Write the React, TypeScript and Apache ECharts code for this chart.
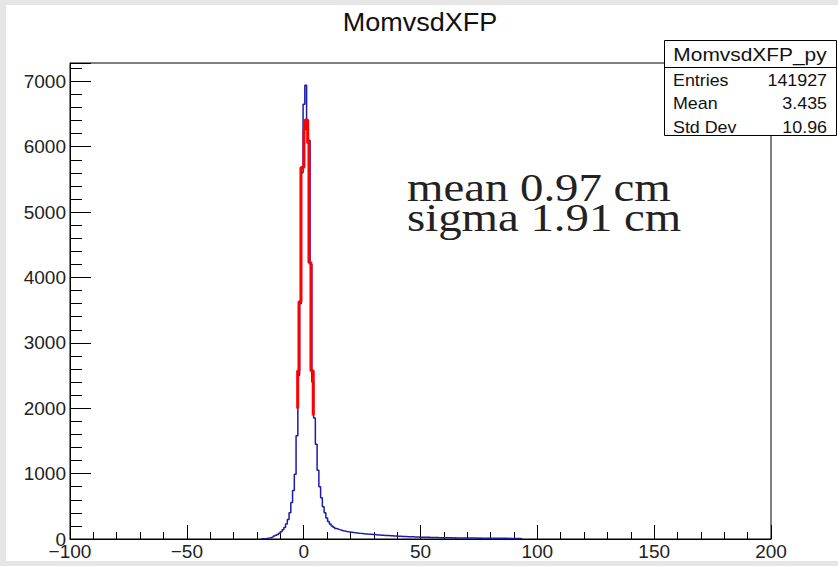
import React, { useEffect, useRef } from "react";
import * as echarts from "echarts";

// Histogram of MomvsdXFP_py: bins of width 0.75 starting at -18.25
const binStart = -18.25;
const binWidth = 0.75;
const counts = [
  2, 4, 7, 11, 17, 24, 33, 44, 56, 70,
  88, 110, 140, 175, 230, 300, 400, 560, 740, 990,
  1580, 2500, 3600, 5600, 6650, 6940, 6300, 6100, 4200, 2400,
  1850, 1450, 1050, 800, 630, 495, 400, 322, 266, 228,
  198, 178, 162, 152, 143, 135, 127, 121, 115, 110,
  106, 102, 98, 95, 92, 88, 86, 83, 80, 78,
  75, 73, 71, 69, 67, 65, 63, 61, 59, 57,
  55, 53, 52, 50, 48, 46, 45, 43, 42, 41,
  40, 38, 37, 36, 35, 34, 33, 32, 30, 29,
  28, 27, 27, 26, 25, 25, 24, 23, 24, 22,
  22, 21, 21, 20, 20, 19, 19, 18, 18, 17,
  18, 17, 16, 16, 16, 15, 15, 16, 15, 14,
  15, 14, 14, 13, 14, 13, 13, 12, 13, 12,
  12, 11, 12, 11, 11, 11, 10, 10, 11, 10,
  9, 10, 9, 9, 8, 8, 7, 6, 4,
];

// Gaussian fit drawn as a red step curve
const fitEdges = [-2.57, -2.0, -1.16, 0.13, 0.56, 1.71, 2.27, 3.12, 4.1];
const fitLevels = [1994, 2572, 3630, 5680, 6260, 6410, 6060, 4230, 2572, 1890];

// Axes
const xMin = -100;
const xMax = 200;
const xMajor = 50;
const yMin = 0;
const yMax = 7280;
const yMajor = 1000;
const yMinor = 200;

const titleText = "MomvsdXFP";
const statsTitle = "MomvsdXFP_py";
const statsNames = ["Entries", "Mean", "Std Dev"];
const statsValues = ["141927", "3.435", "10.96"];
const fitLines = ["mean 0.97 cm", "sigma 1.91 cm"];

const SANS = '"Liberation Sans", Arial, Helvetica, sans-serif';
const SERIF = '"Liberation Serif", "Times New Roman", serif';

function histPoints(): number[][] {
  const pts: number[][] = [[binStart, 0]];
  counts.forEach((c, i) => {
    const l = binStart + i * binWidth;
    pts.push([l, c]);
    pts.push([l + binWidth, c]);
  });
  pts.push([binStart + counts.length * binWidth, 0]);
  return pts;
}

function fitPoints(): number[][] {
  const pts: number[][] = [[fitEdges[0], fitLevels[0]]];
  fitEdges.forEach((e, i) => {
    if (i > 0) pts.push([e, fitLevels[i]]);
    pts.push([e, fitLevels[i + 1]]);
  });
  return pts;
}

export default function App() {
  const ref = useRef<HTMLDivElement>(null);
  useEffect(() => {
    if (!ref.current) return;
    const chart = echarts.init(ref.current, null, { renderer: "svg" });
    const statsRows = statsNames.map((n, i) => [n, statsValues[i]]);
    const option: any = {
      animation: false,
      backgroundColor: "#ffffff",
      grid: {
        left: 64,
        top: 58,
        width: 701,
        height: 478,
        show: true,
        borderColor: "#000",
        borderWidth: 1,
        backgroundColor: "transparent",
      },
      xAxis: {
        type: "value",
        min: xMin,
        max: xMax,
        interval: xMajor,
        axisLine: { show: true, onZero: false, lineStyle: { color: "#000", width: 1 } },
        axisTick: { show: true, inside: true, length: 14, lineStyle: { color: "#000" } },
        minorTick: { show: true, splitNumber: 5, length: 7, lineStyle: { color: "#000" } },
        splitLine: { show: false },
        axisLabel: {
          color: "#222",
          fontFamily: SANS,
          fontSize: 19,
          margin: 3,
          formatter: (v: number) => (v < 0 ? "\u2212" + Math.abs(v) : String(v)),
        },
      },
      yAxis: [
        {
          type: "value",
          min: yMin,
          max: yMax,
          interval: yMajor,
          axisLine: { show: true, onZero: false, lineStyle: { color: "#000", width: 1 } },
          axisTick: { show: true, inside: true, length: 21, lineStyle: { color: "#000" } },
          splitLine: { show: false },
          axisLabel: {
            color: "#222",
            fontFamily: SANS,
            fontSize: 19,
            margin: 4,
            formatter: (v: number) => (v % yMajor === 0 ? String(v) : ""),
          },
        },
        {
          type: "value",
          min: yMin,
          max: yMax,
          interval: yMinor,
          position: "left",
          axisLine: { show: false, onZero: false },
          axisTick: { show: true, inside: true, length: 12, lineStyle: { color: "#000" } },
          splitLine: { show: false },
          axisLabel: { show: false },
        },
      ],
      series: [
        {
          type: "line",
          data: histPoints(),
          symbol: "none",
          lineStyle: { color: "#1c1ca6", width: 1.5 },
          z: 2,
        },
        {
          type: "line",
          data: fitPoints(),
          symbol: "none",
          lineStyle: { color: "#ff0000", width: 3 },
          z: 3,
        },
      ],
      graphic: [
        {
          type: "text",
          x: 414,
          y: 17,
          scaleX: 1.08,
          style: {
            text: titleText,
            font: `25px ${SANS}`,
            fill: "#111",
            textAlign: "center",
            textVerticalAlign: "middle",
          },
        },
        {
          type: "rect",
          z: 100,
          shape: { x: 658.5, y: 35.5, width: 172, height: 95 },
          style: { fill: "#fff", stroke: "#000", lineWidth: 1 },
        },
        {
          type: "line",
          z: 101,
          shape: { x1: 658.5, y1: 62.5, x2: 830.5, y2: 62.5 },
          style: { stroke: "#000", lineWidth: 1 },
        },
        {
          type: "text",
          z: 102,
          x: 744,
          y: 49,
          scaleX: 1.1,
          style: {
            text: statsTitle,
            font: `19px ${SANS}`,
            fill: "#111",
            textAlign: "center",
            textVerticalAlign: "middle",
          },
        },
        ...statsRows.flatMap((r, i) => [
          {
            type: "text",
            z: 102,
            x: 667,
            y: 75 + i * 23.5,
            scaleX: 1.05,
            style: { text: r[0], font: `17px ${SANS}`, fill: "#111", textAlign: "left", textVerticalAlign: "middle" },
          },
          {
            type: "text",
            z: 102,
            x: 821,
            y: 75 + i * 23.5,
            scaleX: 1.05,
            style: { text: r[1], font: `17px ${SANS}`, fill: "#111", textAlign: "right", textVerticalAlign: "middle" },
          },
        ]),
        ...fitLines.map((t, i) => ({
          type: "text",
          z: 50,
          x: 401,
          y: 183 + i * 30,
          scaleX: 1.2,
          style: { text: t, font: `39px ${SERIF}`, fill: "#222", textAlign: "left", textVerticalAlign: "middle" },
        })),
      ],
    };
    chart.setOption(option);
    return () => chart.dispose();
  }, []);
  return (
    <div style={{ position: "fixed", left: 0, top: 0, width: 838, height: 566, background: "#e6e6e6" }}>
      <div ref={ref} style={{ position: "absolute", left: 6, top: 5, width: 832, height: 556 }} />
    </div>
  );
}
